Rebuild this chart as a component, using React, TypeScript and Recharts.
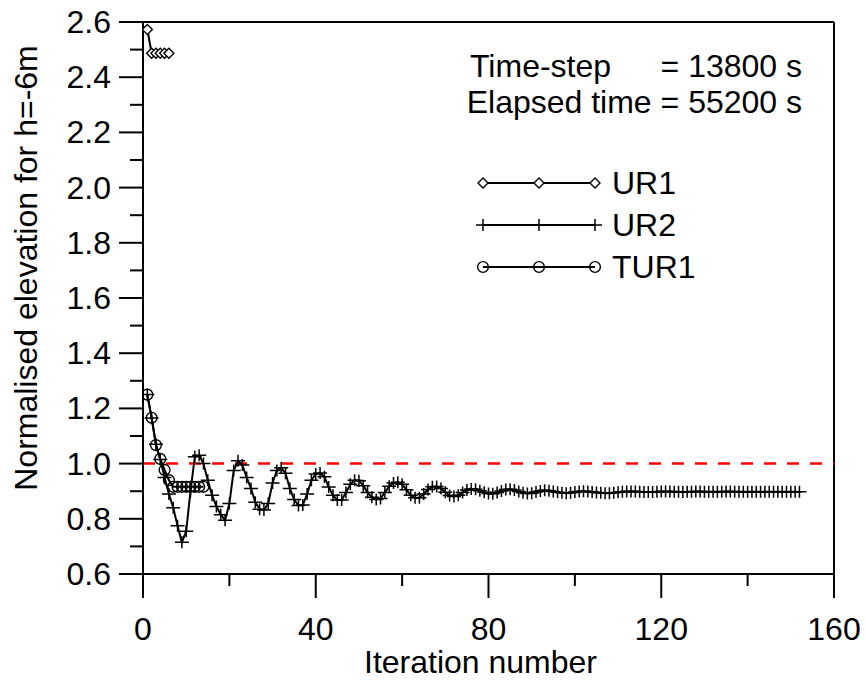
import React from 'react';
import { LineChart, Line, XAxis, YAxis, ReferenceLine, Legend } from 'recharts';

const FONT = '"Liberation Sans", Arial, Helvetica, sans-serif';
const FS = 32;

// ---- data ----
const iterUR1 = [1, 2, 3, 4, 5, 6];
const valUR1 = [2.573, 2.487, 2.487, 2.487, 2.487, 2.487];

const iterTUR1 = [1, 2, 3, 4, 5, 6, 7, 8, 9, 10, 11, 12, 13, 14];
const valTUR1 = [1.25, 1.166, 1.067, 1.017, 0.977, 0.94, 0.916, 0.916, 0.916, 0.916, 0.916, 0.916, 0.916, 0.916];

const valUR2 = [
  1.25, 1.165, 1.07, 1.015, 0.95, 0.89, 0.84, 0.775, 0.715, 0.755,
  0.9, 1.025, 1.03, 1.0, 0.94, 0.885, 0.845, 0.815, 0.795, 0.855,
  0.975, 1.01, 0.995, 0.95, 0.91, 0.86, 0.835, 0.832, 0.855, 0.93,
  0.975, 0.985, 0.965, 0.91, 0.87, 0.848, 0.85, 0.89, 0.94, 0.962,
  0.966, 0.952, 0.915, 0.885, 0.868, 0.868, 0.895, 0.925, 0.94, 0.938,
  0.92, 0.895, 0.878, 0.87, 0.874, 0.895, 0.918, 0.93, 0.932, 0.925,
  0.905, 0.885, 0.876, 0.876, 0.89, 0.906, 0.916, 0.917, 0.91, 0.896,
  0.884, 0.881, 0.885, 0.895, 0.904, 0.908, 0.907, 0.902, 0.896, 0.892,
  0.891, 0.895, 0.901, 0.906, 0.907, 0.904, 0.899, 0.894, 0.892, 0.893,
  0.897, 0.901, 0.903, 0.902, 0.899, 0.896, 0.894, 0.893, 0.894, 0.897,
  0.899, 0.9, 0.899, 0.897, 0.895, 0.894, 0.893, 0.893, 0.894, 0.896,
  0.898, 0.899, 0.899, 0.899, 0.898, 0.897, 0.897, 0.897, 0.898, 0.899,
  0.899, 0.899, 0.898, 0.898, 0.897, 0.898, 0.898, 0.899, 0.899, 0.898,
  0.898, 0.898, 0.898, 0.898, 0.899, 0.899, 0.898, 0.898, 0.898, 0.898,
  0.898, 0.898, 0.898, 0.898, 0.898, 0.898, 0.898, 0.898, 0.898, 0.898,
  0.898, 0.898,
];
const iterUR2 = valUR2.map((_, i) => i + 1);

const xTicks = [0, 20, 40, 60, 80, 100, 120, 140, 160];
const xMajor = [0, 40, 80, 120, 160];
const yTicks = [0.6, 0.7, 0.8, 0.9, 1.0, 1.1, 1.2, 1.3, 1.4, 1.5, 1.6, 1.7, 1.8, 1.9, 2.0, 2.1, 2.2, 2.3, 2.4, 2.5, 2.6];
const yMajor = [0.6, 0.8, 1.0, 1.2, 1.4, 1.6, 1.8, 2.0, 2.2, 2.4, 2.6];

const seriesNames = ['UR1', 'UR2', 'TUR1'];
const textLine1 = ['Time-step', '= 13800 s'];
const textLine2 = 'Elapsed time = 55200 s';

const dataUR1 = iterUR1.map((x, i) => ({ x, y: valUR1[i] }));
const dataUR2 = iterUR2.map((x, i) => ({ x, y: valUR2[i] }));
const dataTUR1 = iterTUR1.map((x, i) => ({ x, y: valTUR1[i] }));

// ---- markers ----
const Diamond = ({ cx, cy }: any) => (
  <path d={`M${cx} ${cy - 5}L${cx + 5} ${cy}L${cx} ${cy + 5}L${cx - 5} ${cy}Z`} fill="#fff" stroke="#000" strokeWidth={1.4} />
);
const Plus = ({ cx, cy }: any) => (
  <path d={`M${cx - 7} ${cy}H${cx + 7}M${cx} ${cy - 6}V${cy + 6}`} fill="none" stroke="#000" strokeWidth={1.5} />
);
const Circ = ({ cx, cy }: any) => (
  <circle cx={cx} cy={cy} r={5.4} fill="none" stroke="#000" strokeWidth={1.4} />
);
const markerFor: Record<string, any> = { UR1: Diamond, UR2: Plus, TUR1: Circ };

// ---- ticks ----
const YTick = (props: any) => {
  const { x, y, payload } = props;
  const v = payload.value;
  const major = yMajor.some((m) => Math.abs(m - v) < 1e-6);
  return (
    <g>
      <line x1={x - (major ? 24 : 13)} x2={x} y1={y} y2={y} stroke="#000" strokeWidth={2} />
      {major && (
        <text x={x - 32} y={y + 11} textAnchor="end" fontFamily={FONT} fontSize={FS} fill="#000">
          {v.toFixed(1)}
        </text>
      )}
    </g>
  );
};

const XTick = (props: any) => {
  const { x, y, payload } = props;
  const v = payload.value;
  const major = xMajor.includes(v);
  return (
    <g>
      <line x1={x} x2={x} y1={y} y2={y + (major ? 24 : 12)} stroke="#000" strokeWidth={2} />
      {major && (
        <text x={x} y={y + 66} textAnchor="middle" fontFamily={FONT} fontSize={FS} fill="#000">
          {v}
        </text>
      )}
    </g>
  );
};

const XTitle = (props: any) => {
  const vb = props.viewBox || { x: 143, width: 691 };
  const cx = vb.x + vb.width / 2;
  return (
    <text x={cx - 8} y={673} textAnchor="middle" fontFamily={FONT} fontSize={FS} fill="#000">
      Iteration number
    </text>
  );
};

const YTitle = () => (
  <text x={37} y={268} transform="rotate(-90 37 268)" textAnchor="middle" fontFamily={FONT} fontSize={FS} fill="#000">
    Normalised elevation for h=-6m
  </text>
);

const LegendContent = () => (
  <svg width={230} height={130} style={{ overflow: 'visible', display: 'block' }}>
    {seriesNames.map((name, i) => {
      const cy = 23 + i * 42;
      const M = markerFor[name];
      return (
        <g key={name}>
          <line x1={13} x2={125} y1={cy} y2={cy} stroke="#000" strokeWidth={2} />
          <M cx={13} cy={cy} />
          <M cx={69} cy={cy} />
          <M cx={125} cy={cy} />
          <text x={142} y={cy + 11} fontFamily={FONT} fontSize={FS} fill="#000">
            {name}
          </text>
        </g>
      );
    })}
  </svg>
);

export default function App() {
  return (
    <div style={{ position: 'absolute', left: 0, top: 0, width: 866, height: 680, background: '#fff' }}>
      <LineChart width={866} height={680} margin={{ top: 22, right: 32, bottom: 26, left: 43 }}>
        <XAxis
          dataKey="x"
          type="number"
          domain={[0, 160]}
          ticks={xTicks}
          interval={0}
          tickSize={0}
          tickMargin={0}
          tickLine={false}
          tick={<XTick />}
          height={80}
          axisLine={{ stroke: '#000', strokeWidth: 2 }}
          label={<XTitle />}
          allowDataOverflow
        />
        <YAxis
          type="number"
          domain={[0.6, 2.6]}
          ticks={yTicks}
          interval={0}
          tickSize={0}
          tickMargin={0}
          tickLine={false}
          tick={<YTick />}
          width={100}
          axisLine={{ stroke: '#000', strokeWidth: 2 }}
          label={<YTitle />}
          allowDataOverflow
        />
        <ReferenceLine y={2.6} stroke="#000" strokeWidth={2} />
        <ReferenceLine x={160} stroke="#000" strokeWidth={2} />
        <ReferenceLine y={1.0} stroke="#ff0000" strokeWidth={2.5} strokeDasharray="12 11" />
        <Legend
          layout="horizontal"
          verticalAlign="middle"
          align="center"
          content={<LegendContent />}
          wrapperStyle={{ position: 'absolute', left: 470, top: 160, width: 230, height: 130 }}
        />
        <Line
          name="UR1"
          data={dataUR1}
          dataKey="y"
          stroke="#000"
          strokeWidth={2}
          dot={<Diamond />}
          activeDot={false}
          isAnimationActive={false}
        />
        <Line
          name="UR2"
          data={dataUR2}
          dataKey="y"
          stroke="#000"
          strokeWidth={2}
          dot={<Plus />}
          activeDot={false}
          isAnimationActive={false}
        />
        <Line
          name="TUR1"
          data={dataTUR1}
          dataKey="y"
          stroke="#000"
          strokeWidth={2}
          dot={<Circ />}
          activeDot={false}
          isAnimationActive={false}
        />
      </LineChart>
      <svg width={866} height={680} style={{ position: 'absolute', left: 0, top: 0, pointerEvents: 'none' }}>
        <text x={470} y={77} fontFamily={FONT} fontSize={FS} fill="#000">{textLine1[0]}</text>
        <text x={802} y={77} textAnchor="end" fontFamily={FONT} fontSize={FS} fill="#000">{textLine1[1]}</text>
        <text x={802} y={113} textAnchor="end" fontFamily={FONT} fontSize={FS} fill="#000">{textLine2}</text>
      </svg>
    </div>
  );
}
